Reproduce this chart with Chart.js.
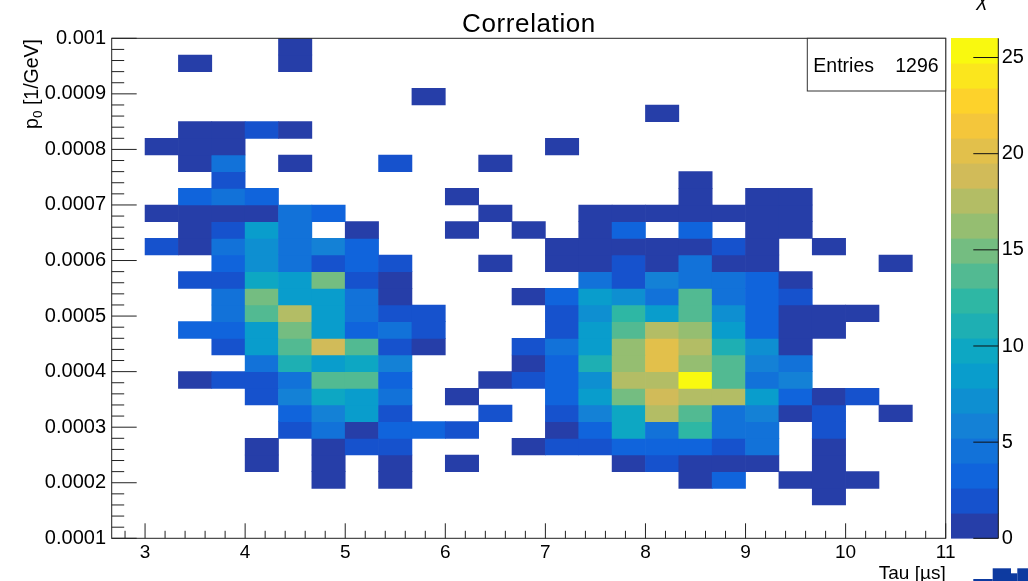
<!DOCTYPE html>
<html>
<head>
<meta charset="utf-8">
<title>Correlation</title>
<script src="https://cdn.jsdelivr.net/npm/chart.js@4.4.1/dist/chart.umd.min.js"></script>
<style>
  html, body { margin: 0; padding: 0; background: #ffffff; overflow: hidden; }
  canvas { display: block; }
</style>
</head>
<body>
<canvas id="chart" width="1028" height="581"></canvas>
<script>
// ---------------- texts ----------------
const chartTitle = "Correlation";
const xTitle = "Tau [µs]";
const yTitleMain = "p", yTitleSub = "0", yTitleRest = " [1/GeV]";
const zTitle = "χ";
const statsLabel = "Entries";
const statsValue = "1296";

// ---------------- binning / ranges ----------------
const xBinLow = 8 / 3;        // lower edge of first Tau bin
const xBinWidth = 1 / 3;      // 25 bins up to 11
const yBinLow = 0.0001;       // lower edge of first p0 bin
const yBinWidth = 0.00003;    // 30 bins up to 0.001
const xRange = [8 / 3, 11];
const yRange = [0.0001, 0.001];
const zRange = [0, 26];
const nContours = 20;

// ---------------- tick labels ----------------
const xTickLabels = ["3", "4", "5", "6", "7", "8", "9", "10", "11"];
const yTickLabels = ["0.0001", "0.0002", "0.0003", "0.0004", "0.0005",
                     "0.0006", "0.0007", "0.0008", "0.0009", "0.001"];
const zTickLabels = ["0", "5", "10", "15", "20", "25"];

// ---------------- bin contents ----------------
// rows from the top p0 bin (0.00097-0.001) down to the bottom one (0.0001-0.00013),
// 25 Tau bins per row (2.67 .. 11 us)
const counts = [
  [0,0,0,0,0, 1,0,0,0,0, 0,0,0,0,0, 0,0,0,0,0, 0,0,0,0,0],
  [0,0,1,0,0, 1,0,0,0,0, 0,0,0,0,0, 0,0,0,0,0, 0,0,0,0,0],
  [0,0,0,0,0, 0,0,0,0,0, 0,0,0,0,0, 0,0,0,0,0, 0,0,0,0,0],
  [0,0,0,0,0, 0,0,0,0,1, 0,0,0,0,0, 0,0,0,0,0, 0,0,0,0,0],
  [0,0,0,0,0, 0,0,0,0,0, 0,0,0,0,0, 0,1,0,0,0, 0,0,0,0,0],
  [0,0,1,1,2, 1,0,0,0,0, 0,0,0,0,0, 0,0,0,0,0, 0,0,0,0,0],
  [0,1,1,1,0, 0,0,0,0,0, 0,0,0,1,0, 0,0,0,0,0, 0,0,0,0,0],
  [0,0,1,4,0, 1,0,0,2,0, 0,1,0,0,0, 0,0,0,0,0, 0,0,0,0,0],
  [0,0,0,2,0, 0,0,0,0,0, 0,0,0,0,0, 0,0,1,0,0, 0,0,0,0,0],
  [0,0,3,4,3, 0,0,0,0,0, 1,0,0,0,0, 0,0,1,0,1, 1,0,0,0,0],
  [0,1,1,1,1, 4,3,0,0,0, 0,1,0,0,1, 1,1,1,1,1, 1,0,0,0,0],
  [0,0,1,2,8, 5,0,1,0,0, 1,0,1,0,1, 3,0,3,0,1, 1,0,0,0,0],
  [0,2,1,5,7, 4,6,3,0,0, 0,0,0,1,1, 1,1,1,2,1, 0,1,0,0,0],
  [0,0,0,3,7, 5,2,3,2,0, 0,1,0,1,1, 2,1,4,1,1, 0,0,0,1,0],
  [0,0,2,2,10, 9,15,2,1,0, 0,0,0,0,5, 2,6,4,4,3, 1,0,0,0,0],
  [0,0,0,5,15, 9,8,4,1,0, 0,0,1,3,9, 7,5,14,5,3, 2,0,0,0,0],
  [0,0,0,4,13, 18,8,5,2,2, 0,0,0,2,7, 12,9,14,7,3, 1,1,1,0,0],
  [0,0,3,3,8, 15,9,3,4,2, 0,0,0,2,8, 13,18,16,9,3, 1,1,0,0,0],
  [0,0,0,2,9, 13,19,14,2,1, 0,0,2,5,8, 16,20,17,11,7, 1,0,0,0,0],
  [0,0,0,0,4, 11,8,10,6,0, 0,0,1,3,11, 16,20,16,14,6, 5,0,0,0,0],
  [0,0,1,2,2, 4,13,13,3,0, 0,1,2,3,7, 18,17,26,14,5, 6,0,0,0,0],
  [0,0,0,0,2, 6,10,9,5,0, 1,0,0,3,9, 15,19,17,18,8, 3,1,2,0,0],
  [0,0,0,0,0, 3,6,8,2,0, 0,2,0,2,6, 10,17,13,4,6, 1,2,0,1,0],
  [0,0,0,0,0, 2,4,1,3,3, 2,0,0,1,3, 10,5,12,5,4, 0,2,0,0,0],
  [0,0,0,0,1, 0,1,2,2,0, 0,0,1,2,2, 3,3,3,2,4, 0,1,0,0,0],
  [0,0,0,0,1, 0,1,0,1,0, 1,0,0,0,0, 1,2,1,1,1, 0,1,0,0,0],
  [0,0,0,0,0, 0,1,0,1,0, 0,0,0,0,0, 0,0,1,3,0, 1,1,1,0,0],
  [0,0,0,0,0, 0,0,0,0,0, 0,0,0,0,0, 0,0,0,0,0, 0,1,0,0,0],
  [0,0,0,0,0, 0,0,0,0,0, 0,0,0,0,0, 0,0,0,0,0, 0,0,0,0,0],
  [0,0,0,0,0, 0,0,0,0,0, 0,0,0,0,0, 0,0,0,0,0, 0,0,0,0,0]
];

// ---------------- kBird palette (ROOT) ----------------
const birdStops = [0.0000, 0.1250, 0.2500, 0.3750, 0.5000, 0.6250, 0.7500, 0.8750, 1.0000];
const birdR = [0.2082, 0.0592, 0.0780, 0.0232, 0.1802, 0.5301, 0.8186, 0.9956, 0.9764];
const birdG = [0.1664, 0.3599, 0.5041, 0.6419, 0.7178, 0.7492, 0.7328, 0.7862, 0.9832];
const birdB = [0.5293, 0.8684, 0.8385, 0.7914, 0.6425, 0.4662, 0.3499, 0.1968, 0.0539];
const NCOL = 255;
const palette = (() => {
  const out = [];
  for (let g = 1; g < birdStops.length; g++) {
    const n = Math.floor(NCOL * birdStops[g]) - Math.floor(NCOL * birdStops[g - 1]);
    for (let c = 0; c < n; c++) {
      const t = c / n;
      const r = birdR[g - 1] + t * (birdR[g] - birdR[g - 1]);
      const gg = birdG[g - 1] + t * (birdG[g] - birdG[g - 1]);
      const b = birdB[g - 1] + t * (birdB[g] - birdB[g - 1]);
      out.push(`rgb(${Math.round(r * 255)},${Math.round(gg * 255)},${Math.round(b * 255)})`);
    }
  }
  return out;
})();
function bandColor(k) {
  const idx = Math.min(NCOL - 1, Math.floor((k + 0.99) * NCOL / nContours));
  return palette[idx];
}
function levelColor(v) {
  const k = Math.floor(0.01 + (v - zRange[0]) * nContours / (zRange[1] - zRange[0]));
  return bandColor(Math.min(nContours - 1, Math.max(0, k)));
}

// ---------------- datasets: one floating-bar dataset per p0 row ----------------
const nRows = counts.length;
const datasets = counts.map((row, r) => {
  const j = nRows - 1 - r;
  const lo = yBinLow + j * yBinWidth;
  const hi = yBinLow + (j + 1) * yBinWidth;
  const data = [];
  row.forEach((v, i) => {
    if (v > 0) data.push({ x: xBinLow + (i + 0.5) * xBinWidth, y: [lo, hi], v: v });
  });
  return {
    type: 'bar',
    data: data,
    backgroundColor: (c) => (c.raw ? levelColor(c.raw.v) : 'rgba(0,0,0,0)'),
    borderWidth: 0,
    borderSkipped: false,
    barPercentage: 1.0,
    categoryPercentage: 1.0,
    grouped: false
  };
});

const FONT = '"Liberation Sans", Arial, Helvetica, sans-serif';
Chart.defaults.font.family = FONT;
Chart.defaults.color = '#000';

function fixFit(size, prop) {
  return (s) => {
    s[prop] = size;
    s.paddingTop = 0; s.paddingBottom = 0; s.paddingLeft = 0; s.paddingRight = 0;
  };
}

// ---------------- ROOT-style decorations ----------------
const rootDeco = {
  id: 'rootDeco',
  afterDraw(chart) {
    const { ctx, chartArea: a, scales } = chart;
    const xs = scales.x, ys = scales.y, zs = scales.z;
    ctx.save();

    // ticks (inside the frame)
    ctx.strokeStyle = '#222';
    ctx.lineWidth = 1;
    ctx.beginPath();
    for (let t = 14; t <= 55; t++) {           // every 0.2 us
      const px = xs.getPixelForValue(t / 5);
      const len = (t % 5 === 0) ? 15 : 7.5;
      ctx.moveTo(px, a.bottom);
      ctx.lineTo(px, a.bottom - len);
    }
    for (let t = 5; t <= 50; t++) {            // every 0.00002
      const py = ys.getPixelForValue(t * 0.00002);
      const len = (t % 5 === 0) ? 25 : 12.5;
      ctx.moveTo(a.left, py);
      ctx.lineTo(a.left + len, py);
    }
    ctx.stroke();

    // frame
    ctx.strokeStyle = '#222';
    ctx.strokeRect(a.left, a.top, a.right - a.left, a.bottom - a.top);

    // colour palette bar
    const barL = a.right + 5.3, barR = a.right + 52.6;
    const dz = (zRange[1] - zRange[0]) / nContours;
    for (let k = 0; k < nContours; k++) {
      const y0 = zs.getPixelForValue(zRange[0] + k * dz);
      const y1 = zs.getPixelForValue(zRange[0] + (k + 1) * dz);
      ctx.fillStyle = bandColor(k);
      ctx.fillRect(barL, y1 - 0.3, barR - barL, y0 - y1 + 0.6);
    }
    ctx.strokeStyle = '#111';
    ctx.beginPath();
    ctx.moveTo(barR, zs.top);
    ctx.lineTo(barR, zs.bottom);
    zTickLabels.forEach((lab) => {
      const py = zs.getPixelForValue(parseFloat(lab));
      ctx.moveTo(barR - 25, py);
      ctx.lineTo(barR, py);
    });
    ctx.stroke();

    // stats box
    const sbL = 807.3, sbB = 91;
    ctx.fillStyle = '#fff';
    ctx.fillRect(sbL, a.top, a.right - sbL, sbB - a.top);
    ctx.strokeStyle = '#333';
    ctx.strokeRect(sbL, a.top, a.right - sbL, sbB - a.top);
    ctx.fillStyle = '#000';
    ctx.font = '19.5px ' + FONT;
    ctx.textBaseline = 'alphabetic';
    ctx.textAlign = 'left';
    ctx.fillText(statsLabel, 813.3, 72.3);
    ctx.textAlign = 'right';
    ctx.fillText(statsValue, 938.6, 72.3);

    // title
    ctx.font = '26px ' + FONT;
    ctx.textAlign = 'left';
    ctx.letterSpacing = '0.6px';
    const tw = ctx.measureText(chartTitle).width - 0.6;
    ctx.fillText(chartTitle, (a.left + a.right) / 2 - tw / 2, 31.5);
    ctx.letterSpacing = '0px';

    // x title
    ctx.font = '19px ' + FONT;
    ctx.textAlign = 'right';
    ctx.fillText(xTitle, a.right, 578.5);

    // z title
    ctx.font = 'italic 20px ' + FONT;
    ctx.textAlign = 'center';
    ctx.fillText(zTitle, 982.5, 6);

    // y title (rotated, with subscript)
    ctx.save();
    ctx.translate(37.5, a.top + 0.7);
    ctx.rotate(-Math.PI / 2);
    ctx.textAlign = 'left';
    const fMain = '19.5px ' + FONT, fSub = '13.5px ' + FONT;
    ctx.font = fMain;
    const w1 = ctx.measureText(yTitleMain).width;
    const w3 = ctx.measureText(yTitleRest).width;
    ctx.font = fSub;
    const w2 = ctx.measureText(yTitleSub).width;
    const x0 = -(w1 + w2 + w3);
    ctx.font = fMain; ctx.fillText(yTitleMain, x0, 0);
    ctx.font = fSub;  ctx.fillText(yTitleSub, x0 + w1, 4);
    ctx.font = fMain; ctx.fillText(yTitleRest, x0 + w1 + w2, 0);
    ctx.restore();

    // corner logo fragment
    ctx.fillStyle = '#0d3aa0';
    ctx.fillRect(973.3, 579, 19.4, 2);
    ctx.fillRect(992.7, 568.3, 18.3, 12.7);
    ctx.fillRect(1011, 573.3, 6.3, 7.7);
    ctx.fillRect(1017.3, 568.3, 10.7, 12.7);

    ctx.restore();
  }
};

new Chart(document.getElementById('chart'), {
  type: 'bar',
  data: { datasets: datasets },
  options: {
    responsive: false,
    animation: false,
    devicePixelRatio: 1,
    events: [],
    layout: { padding: { top: 38.3, left: 0, right: 0, bottom: 0 } },
    plugins: {
      legend: { display: false },
      title: { display: false },
      tooltip: { enabled: false }
    },
    scales: {
      x: {
        type: 'linear',
        min: xRange[0], max: xRange[1],
        offset: false,
        bounds: 'data',
        grid: { display: false, drawTicks: false },
        border: { display: false },
        afterBuildTicks: (s) => { s.ticks = xTickLabels.map((t) => ({ value: parseFloat(t) })); },
        ticks: {
          autoSkip: false, maxRotation: 0, padding: 3,
          font: { size: 19 }, color: '#000',
          callback: (v, i) => xTickLabels[i]
        },
        afterFit: fixFit(42.7, 'height')
      },
      y: {
        type: 'linear',
        min: yRange[0], max: yRange[1],
        beginAtZero: false,
        bounds: 'data',
        grid: { display: false, drawTicks: false },
        border: { display: false },
        afterBuildTicks: (s) => { s.ticks = yTickLabels.map((t) => ({ value: parseFloat(t) })); },
        ticks: {
          autoSkip: false, padding: 5.7,
          font: { size: 20 }, color: '#000',
          callback: (v, i) => yTickLabels[i]
        },
        afterFit: fixFit(111.7, 'width')
      },
      z: {
        type: 'linear',
        axis: 'y',
        position: 'right',
        min: zRange[0], max: zRange[1],
        bounds: 'data',
        grid: { display: false, drawTicks: false },
        border: { display: false },
        afterBuildTicks: (s) => { s.ticks = zTickLabels.map((t) => ({ value: parseFloat(t) })); },
        ticks: {
          autoSkip: false, padding: 56,
          font: { size: 20 }, color: '#000',
          callback: (v, i) => zTickLabels[i]
        },
        afterFit: fixFit(82.3, 'width')
      }
    }
  },
  plugins: [rootDeco]
});
</script>
</body>
</html>
